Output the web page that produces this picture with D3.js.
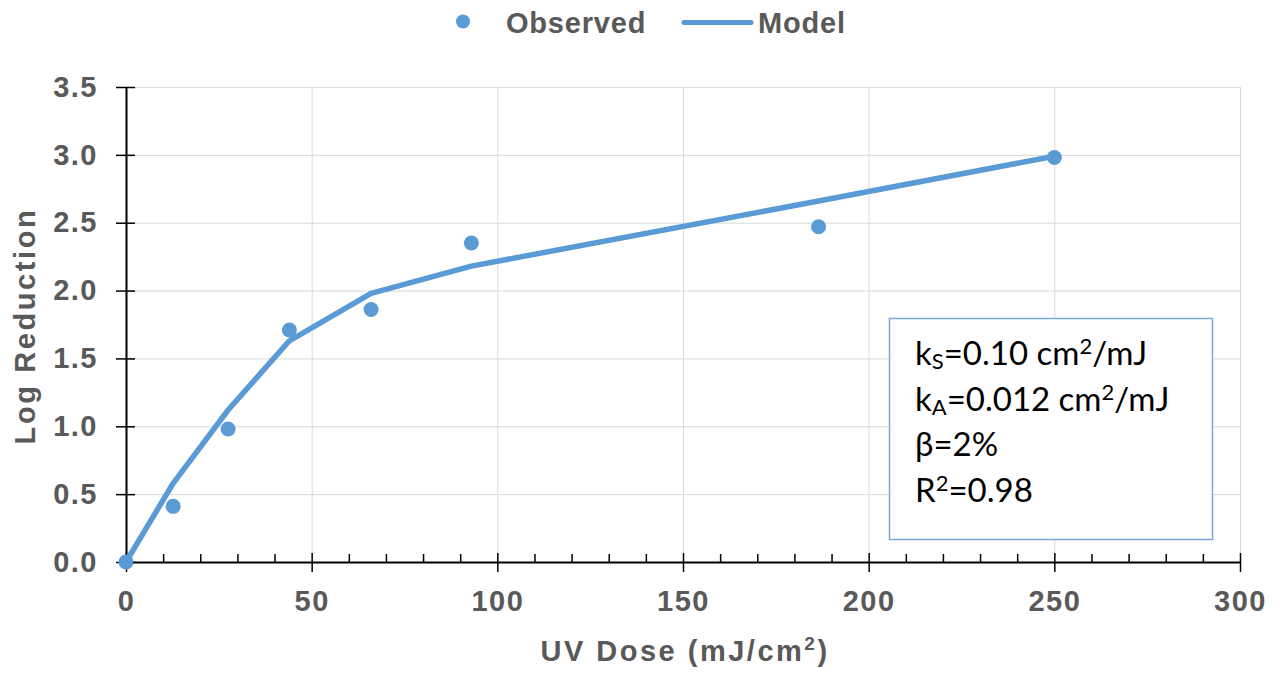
<!DOCTYPE html>
<html>
<head>
<meta charset="utf-8">
<script src="https://cdn.jsdelivr.net/npm/d3@7"></script>
<style>
  body { margin: 0; background: #fff; }
  svg { display: block; }
  .lbl { font-family: "Liberation Sans", Arial, sans-serif; font-weight: bold; fill: #595959; }
  .box text { font-family: Lato, "Open Sans", sans-serif; fill: #000; }
</style>
</head>
<body>
<div id="chart"></div>
<script>
// data
var dose     = [0, 12.7, 27.5, 44, 66, 93, 186.5, 250];
var observed = [0, 0.41, 0.98, 1.71, 1.86, 2.35, 2.47, 2.98];
var model    = [0, 0.58, 1.12, 1.63, 1.98, 2.18, 2.66, 2.99];

var xMajor = [0, 50, 100, 150, 200, 250, 300];
var xMinor = d3.range(10, 300, 10).filter(function(v) { return v % 50 != 0; });
var yMajor = [0, 0.5, 1.0, 1.5, 2.0, 2.5, 3.0, 3.5];

var legendLabels = ["Observed", "Model"];

// text box lines, parts: [text, "sub"|"sup"|""]
var boxLines = [
  [["k", ""], ["S", "sub"], ["=0.10 cm", ""], ["2", "sup"], ["/mJ", ""]],
  [["k", ""], ["A", "sub"], ["=0.012 cm", ""], ["2", "sup"], ["/mJ", ""]],
  [["\u03b2=2%", ""]],
  [["R", ""], ["2", "sup"], ["=0.98", ""]]
];

var W = 1274, H = 673;
var margin = {left: 126, top: 87, right: 34, bottom: 111};
var width = W - margin.left - margin.right,
    height = H - margin.top - margin.bottom;
var blue = "#5b9bd5";

var svg = d3.select("#chart").append("svg")
  .attr("width", W).attr("height", H);

var g = svg.append("g")
  .attr("transform", "translate(" + margin.left + "," + margin.top + ")");

var x = d3.scaleLinear().domain([0, 300]).range([0, width]);
var y = d3.scaleLinear().domain([0, 3.5]).range([height, 0]);

// grid
g.append("g")
  .attr("transform", "translate(0," + height + ")")
  .call(d3.axisBottom(x).tickValues(xMajor.slice(1)).tickSize(-height).tickFormat(""))
  .call(function(a) { a.select(".domain").remove(); a.selectAll("line").attr("stroke", "#d9d9d9"); });
g.append("g")
  .call(d3.axisLeft(y).tickValues(yMajor.slice(1)).tickSize(-width).tickFormat(""))
  .call(function(a) { a.select(".domain").remove(); a.selectAll("line").attr("stroke", "#d9d9d9"); });

// text box
var box = g.append("g").attr("class", "box");
box.append("rect")
  .attr("x", 763.5).attr("y", 231.5)
  .attr("width", 323).attr("height", 221)
  .attr("fill", "#fff")
  .attr("stroke", "#7aa9dc").attr("stroke-width", 1.5);
var bt = box.selectAll("text").data(boxLines).enter().append("text")
  .attr("x", 789)
  .attr("y", function(d, i) { return 278 + i * 45.5; })
  .style("font-size", "33px");
bt.selectAll("tspan").data(function(d) { return d; }).enter().append("tspan")
  .text(function(d) { return d[0]; })
  .style("font-size", function(d) { return d[1] ? "22px" : null; })
  .attr("baseline-shift", function(d) { return d[1] == "sub" ? "-4px" : (d[1] == "sup" ? "11px" : null); });

// x axis
var xa = g.append("g").attr("transform", "translate(0," + height + ")");
xa.call(d3.axisBottom(x).tickValues(xMajor).tickSizeInner(10).tickSizeOuter(0).tickPadding(18))
xa.selectAll(".tick line").attr("y1", -9).attr("stroke-width", 1.5);
xa.select(".domain").attr("stroke-width", 2);
xa.append("g")
  .call(d3.axisTop(x).tickValues(xMinor).tickSize(8).tickFormat(""))
  .call(function(a) { a.select(".domain").remove(); a.selectAll("line").attr("stroke-width", 1.5); });
xa.selectAll("text").attr("class", "lbl").attr("fill", null)
  .style("font-size", "29px").style("letter-spacing", "1.5px");

// y axis
var ya = g.append("g");
ya.call(d3.axisLeft(y).tickValues(yMajor).tickSizeInner(10).tickSizeOuter(0).tickPadding(18).tickFormat(d3.format(".1f")));
ya.selectAll(".tick line").attr("x1", 9).attr("stroke-width", 1.5);
ya.select(".domain").attr("stroke-width", 2);
ya.selectAll("text").attr("class", "lbl").attr("fill", null)
  .style("font-size", "29px").style("letter-spacing", "1.5px");

// axis titles
svg.append("text").attr("class", "lbl")
  .attr("x", 685).attr("y", 661)
  .attr("text-anchor", "middle")
  .style("font-size", "29px").style("letter-spacing", "2.5px")
  .call(function(t) {
    t.append("tspan").text("UV Dose (mJ/cm");
    t.append("tspan").text("2").style("font-size", "19px").attr("baseline-shift", "11px");
    t.append("tspan").text(")");
  });
svg.append("text").attr("class", "lbl")
  .attr("transform", "translate(35,326) rotate(-90)")
  .attr("text-anchor", "middle")
  .style("font-size", "29px").style("letter-spacing", "2.6px")
  .text("Log Reduction");

// model line
var pts = dose.map(function(d, i) { return {x: d, o: observed[i], m: model[i]}; });
g.append("path")
  .datum(pts)
  .attr("fill", "none")
  .attr("stroke", blue)
  .attr("stroke-width", 5.5)
  .attr("stroke-linejoin", "round")
  .attr("stroke-linecap", "round")
  .attr("d", d3.line().x(function(d) { return x(d.x); }).y(function(d) { return y(d.m); }));

// observed points
g.selectAll(".pt").data(pts).enter().append("circle")
  .attr("class", "pt")
  .attr("cx", function(d) { return x(d.x); })
  .attr("cy", function(d) { return y(d.o); })
  .attr("r", 7.5)
  .attr("fill", blue);

// legend
var lg = svg.append("g");
lg.append("circle").attr("cx", 463).attr("cy", 21.5).attr("r", 7).attr("fill", blue);
lg.append("line").attr("x1", 684).attr("x2", 751).attr("y1", 22.5).attr("y2", 22.5)
  .attr("stroke", blue).attr("stroke-width", 5).attr("stroke-linecap", "round");
lg.selectAll("text").data(legendLabels).enter().append("text")
  .attr("class", "lbl")
  .attr("x", function(d, i) { return i == 0 ? 506 : 758; })
  .attr("y", 33)
  .style("font-size", "29px").style("letter-spacing", "0.8px")
  .text(function(d) { return d; });
</script>
</body>
</html>
